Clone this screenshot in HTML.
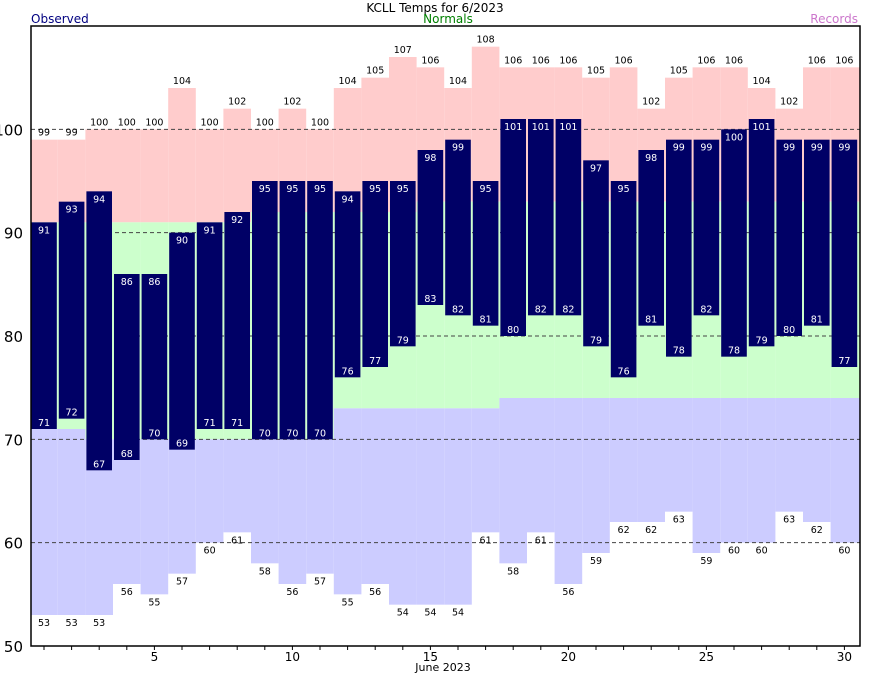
<!DOCTYPE html>
<html><head><meta charset="utf-8"><style>
html,body{margin:0;padding:0;background:#fff;}
svg{display:block;font-family:"DejaVu Sans","Liberation Sans",sans-serif;}
</style></head><body>
<svg id="chart" width="870" height="676" viewBox="0 0 870 676">
<text x="435" y="12" font-size="12" text-anchor="middle" fill="#000">KCLL Temps for 6/2023</text>
<text x="31" y="23" font-size="12" fill="#000080">Observed</text>
<text x="448" y="23" font-size="12" text-anchor="middle" fill="#008000">Normals</text>
<text x="858" y="23" font-size="12" text-anchor="end" fill="#cc77cc">Records</text>
<g id="plot"></g>
<text x="443" y="671" font-size="11" text-anchor="middle" fill="#000">June 2023</text>
</svg>
<script>
const days = Array.from({length:30},(_,i)=>i+1);
const recHigh = [99,99,100,100,100,104,100,102,100,102,100,104,105,107,106,104,108,106,106,106,105,106,102,105,106,106,104,102,106,106];
const recLow = [53,53,53,56,55,57,60,61,58,56,57,55,56,54,54,54,61,58,61,56,59,62,62,63,59,60,60,63,62,60];
const normHigh = [91,91,91,91,91,91,91,91,92,92,92,92,92,92,93,93,93,93,93,93,93,93,93,93,93,93,93,93,93,93];
const normLow = [71,71,70,70,70,70,70,70,70,70,70,73,73,73,73,73,73,74,74,74,74,74,74,74,74,74,74,74,74,74];
const obsHigh = [91,93,94,86,86,90,91,92,95,95,95,94,95,95,98,99,95,101,101,101,97,95,98,99,99,100,101,99,99,99];
const obsLow = [71,72,67,68,70,69,71,71,70,70,70,76,77,79,83,82,81,80,82,82,79,76,81,78,82,78,79,80,81,77];
const yTicks = [50,60,70,80,90,100];
const xTicks = [5,10,15,20,25,30];

const L=31,R=860,T=26,B=646,yMin=50,yMax=110;
const y=v=>B-(v-yMin)/(yMax-yMin)*(B-T);
const x=d=>44+(d-1)*27.6;
const half=13.8;
const NS='http://www.w3.org/2000/svg';
const g=document.getElementById('plot');
function mk(tag,attrs,parent){const e=document.createElementNS(NS,tag);for(const k in attrs)e.setAttribute(k,attrs[k]);(parent||g).appendChild(e);return e;}
function cellX(i){let a=x(days[i])-half,b=x(days[i])+half;if(i===0)a=L;if(i===days.length-1)b=R;return [Math.max(a,L),Math.min(b,R)];}
function band(top,bot,color,name){
  days.forEach((d,i)=>{const [a,b]=cellX(i);
    const r=mk('rect',{x:a,y:y(top[i]),width:b-a,height:y(bot[i])-y(top[i]),fill:color});
    
    });
}
band(recHigh,normHigh,'#ffcccc','record-high-band');
band(normHigh,normLow,'#ccffcc','normal-band');
band(normLow,recLow,'#ccccff','record-low-band');
// gridlines
yTicks.forEach(v=>{
  if(v>yMin){const l=mk('line',{x1:L,x2:R,y1:y(v),y2:y(v),stroke:'#444','stroke-dasharray':'4,3','stroke-width':1});
  
  }
  const t=mk('text',{x:23,y:y(v)+6,'font-size':15,'text-anchor':'end',fill:'#000'});t.textContent=v;
  
  
});
// bars
days.forEach((d,i)=>{
  const cx=x(d);
  const r=mk('rect',{x:cx-12.8,y:y(obsHigh[i]),width:25.6,height:y(obsLow[i])-y(obsHigh[i]),fill:'#000066'});
  
  
  const t1=mk('text',{x:cx,y:y(obsHigh[i])+11,'font-size':9.5,'text-anchor':'middle',fill:'#fff'});t1.textContent=obsHigh[i];
  
  
  const t2=mk('text',{x:cx,y:y(obsLow[i])-3,'font-size':9.5,'text-anchor':'middle',fill:'#fff'});t2.textContent=obsLow[i];
  
  
  const t3=mk('text',{x:cx,y:y(recHigh[i])-4,'font-size':9.5,'text-anchor':'middle',fill:'#000'});t3.textContent=recHigh[i];
  
  
  const t4=mk('text',{x:cx,y:y(recLow[i])+11,'font-size':9.5,'text-anchor':'middle',fill:'#000'});t4.textContent=recLow[i];
  
  
  const tk=mk('line',{x1:cx,x2:cx,y1:B,y2:B+4,stroke:'#000','stroke-width':1});
  
  
});
xTicks.forEach(d=>{
  const t=mk('text',{x:x(d),y:B+15,'font-size':12,'text-anchor':'middle',fill:'#000'});t.textContent=d;
  
  
});
const f=mk('rect',{x:L,y:T,width:R-L,height:B-T,fill:'none',stroke:'#000','stroke-width':1.5});


</script>
</body></html>
